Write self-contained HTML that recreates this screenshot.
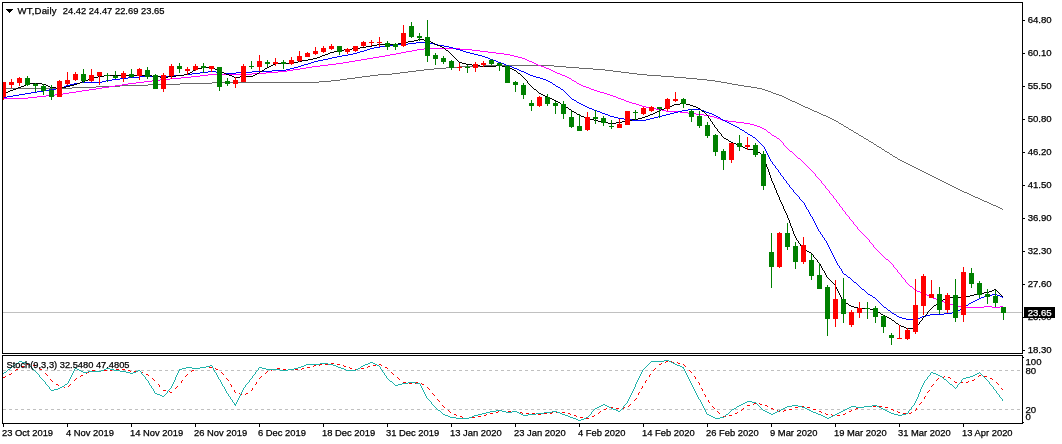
<!DOCTYPE html>
<html lang="en"><head><meta charset="utf-8"><title>WT Daily</title>
<style>
html,body{margin:0;padding:0;background:#fff}
body{width:1062px;height:444px;overflow:hidden;position:relative}
svg{position:absolute;left:0;top:0;display:block}
text{font-family:"Liberation Sans",sans-serif;font-size:9.6px;fill:#000;stroke:#000;stroke-width:.25px}
</style></head><body>
<svg width="1062" height="444" viewBox="0 0 1062 444">
<rect width="1062" height="444" fill="#fff"/>
<defs><clipPath id="cm"><rect x="3" y="3" width="1019" height="350"/></clipPath><clipPath id="cs"><rect x="3" y="356" width="1019" height="67"/></clipPath></defs>
<g class="ln" clip-path="url(#cm)" shape-rendering="crispEdges">
<path d="M3 312h1019v1h-1019z" fill="#c0c0c0"/>
<path fill="#696969" d="M3 88h69v1h-69zM72 87h24v1h-24zM96 86h24v1h-24zM120 85h28v1h-28zM148 84h32v1h-32zM180 83h32v1h-32zM212 82h107v1h-107zM319 81h12v1h-12zM331 80h9v1h-9zM340 79h7v1h-7zM347 78h8v1h-8zM355 77h7v1h-7zM362 76h8v1h-8zM370 75h8v1h-8zM378 74h14v1h-14zM392 73h8v1h-8zM400 72h8v1h-8zM408 71h8v1h-8zM416 70h8v1h-8zM424 69h10v1h-10zM434 68h12v1h-12zM446 67h14v1h-14zM460 66h24v1h-24zM484 65h70v1h-70zM554 66h12v1h-12zM566 67h13v1h-13zM579 68h14v1h-14zM593 69h12v1h-12zM605 70h8v1h-8zM613 71h8v1h-8zM621 72h8v1h-8zM629 73h8v1h-8zM637 74h10v1h-10zM647 75h14v1h-14zM661 76h13v1h-13zM674 77h12v1h-12zM686 78h11v1h-11zM697 79h10v1h-10zM707 80h8v1h-8zM715 81h6v1h-6zM721 82h6v1h-6zM727 83h5v1h-5zM732 84h6v1h-6zM738 85h6v1h-6zM744 86h7v1h-7zM751 87h6v1h-6zM757 88h5v1h-5zM762 89h3v1h-3zM765 90h3v1h-3zM768 91h3v1h-3zM771 92h2v1h-2zM773 93h3v1h-3zM776 94h3v1h-3zM779 95h3v1h-3zM782 96h2v1h-2zM784 97h2v1h-2zM786 98h2v1h-2zM788 99h2v1h-2zM790 100h2v1h-2zM792 101h3v1h-3zM795 102h2v1h-2zM797 103h2v1h-2zM799 104h2v1h-2zM801 105h2v1h-2zM803 106h2v1h-2zM805 107h3v1h-3zM808 108h2v1h-2zM810 109h2v1h-2zM812 110h2v1h-2zM814 111h3v1h-3zM817 112h2v1h-2zM819 113h2v1h-2zM821 114h2v1h-2zM823 115h3v1h-3zM826 116h2v1h-2zM828 117h2v1h-2zM830 118h2v1h-2zM832 119h2v1h-2zM834 120h2v1h-2zM836 121h2v1h-2zM838 122h1v1h-1zM839 123h2v1h-2zM841 124h2v1h-2zM843 125h1v1h-1zM844 126h2v1h-2zM846 127h2v1h-2zM848 128h1v1h-1zM849 129h2v1h-2zM851 130h2v1h-2zM853 131h1v1h-1zM854 132h2v1h-2zM856 133h2v1h-2zM858 134h1v1h-1zM859 135h2v1h-2zM861 136h2v1h-2zM863 137h1v1h-1zM864 138h2v1h-2zM866 139h2v1h-2zM868 140h1v1h-1zM869 141h2v1h-2zM871 142h2v1h-2zM873 143h1v1h-1zM874 144h2v1h-2zM876 145h1v1h-1zM877 146h2v1h-2zM879 147h2v1h-2zM881 148h1v1h-1zM882 149h2v1h-2zM884 150h1v1h-1zM885 151h2v1h-2zM887 152h2v1h-2zM889 153h1v1h-1zM890 154h2v1h-2zM892 155h1v1h-1zM893 156h2v1h-2zM895 157h2v1h-2zM897 158h1v1h-1zM898 159h2v1h-2zM900 160h2v1h-2zM902 161h2v1h-2zM904 162h2v1h-2zM906 163h2v1h-2zM908 164h2v1h-2zM910 165h2v1h-2zM912 166h2v1h-2zM914 167h2v1h-2zM916 168h2v1h-2zM918 169h2v1h-2zM920 170h2v1h-2zM922 171h2v1h-2zM924 172h2v1h-2zM926 173h2v1h-2zM928 174h2v1h-2zM930 175h2v1h-2zM932 176h2v1h-2zM934 177h2v1h-2zM936 178h2v1h-2zM938 179h2v1h-2zM940 180h2v1h-2zM942 181h2v1h-2zM944 182h2v1h-2zM946 183h2v1h-2zM948 184h2v1h-2zM950 185h2v1h-2zM952 186h2v1h-2zM954 187h2v1h-2zM956 188h2v1h-2zM958 189h2v1h-2zM960 190h2v1h-2zM962 191h2v1h-2zM964 192h3v1h-3zM967 193h2v1h-2zM969 194h2v1h-2zM971 195h2v1h-2zM973 196h2v1h-2zM975 197h3v1h-3zM978 198h2v1h-2zM980 199h2v1h-2zM982 200h2v1h-2zM984 201h3v1h-3zM987 202h2v1h-2zM989 203h2v1h-2zM991 204h2v1h-2zM993 205h3v1h-3zM996 206h2v1h-2zM998 207h2v1h-2zM1000 208h2v1h-2zM1002 209h1v1h-1z"/>
<path fill="#f0f" d="M3 98h25v1h-25zM28 97h9v1h-9zM37 96h9v1h-9zM46 95h9v1h-9zM55 94h8v1h-8zM63 93h6v1h-6zM69 92h7v1h-7zM76 91h6v1h-6zM82 90h7v1h-7zM89 89h7v1h-7zM96 88h6v1h-6zM102 87h7v1h-7zM109 86h6v1h-6zM115 85h7v1h-7zM122 84h6v1h-6zM128 83h8v1h-8zM136 82h8v1h-8zM144 81h8v1h-8zM152 80h8v1h-8zM160 79h10v1h-10zM170 78h11v1h-11zM181 77h10v1h-10zM191 76h9v1h-9zM200 75h8v1h-8zM208 74h44v1h-44zM252 73h14v1h-14zM266 72h12v1h-12zM278 71h9v1h-9zM287 70h6v1h-6zM293 69h7v1h-7zM300 68h6v1h-6zM306 67h6v1h-6zM312 66h8v1h-8zM320 65h8v1h-8zM328 64h8v1h-8zM336 63h7v1h-7zM343 62h6v1h-6zM349 61h6v1h-6zM355 60h6v1h-6zM361 59h6v1h-6zM367 58h6v1h-6zM373 57h6v1h-6zM379 56h6v1h-6zM385 55h5v1h-5zM390 54h6v1h-6zM396 53h5v1h-5zM401 52h5v1h-5zM406 51h6v1h-6zM412 50h5v1h-5zM417 49h7v1h-7zM424 48h36v1h-36zM460 49h12v1h-12zM472 50h8v1h-8zM480 51h8v1h-8zM488 52h8v1h-8zM496 53h8v1h-8zM504 54h6v1h-6zM510 55h4v1h-4zM514 56h4v1h-4zM518 57h4v1h-4zM522 58h3v1h-3zM525 59h2v1h-2zM527 60h2v1h-2zM529 61h3v1h-3zM532 62h2v1h-2zM534 63h2v1h-2zM536 64h2v1h-2zM538 65h3v1h-3zM541 66h3v1h-3zM544 67h2v1h-2zM546 68h3v1h-3zM549 69h2v1h-2zM551 70h2v1h-2zM553 71h2v1h-2zM555 72h2v1h-2zM557 73h3v1h-3zM560 74h2v1h-2zM562 75h3v1h-3zM565 76h2v1h-2zM567 77h2v1h-2zM569 78h2v1h-2zM571 79h1v1h-1zM572 80h2v1h-2zM574 81h2v1h-2zM576 82h1v1h-1zM577 83h2v1h-2zM579 84h2v1h-2zM581 85h2v1h-2zM583 86h3v1h-3zM586 87h3v1h-3zM589 88h2v1h-2zM591 89h3v1h-3zM594 90h3v1h-3zM597 91h3v1h-3zM600 92h4v1h-4zM604 93h3v1h-3zM607 94h3v1h-3zM610 95h3v1h-3zM613 96h3v1h-3zM616 97h2v1h-2zM618 98h3v1h-3zM621 99h3v1h-3zM624 100h2v1h-2zM626 101h3v1h-3zM629 102h3v1h-3zM632 103h4v1h-4zM636 104h3v1h-3zM639 105h3v1h-3zM642 106h4v1h-4zM646 107h4v1h-4zM650 108h6v1h-6zM656 109h6v1h-6zM662 110h4v1h-4zM666 111h14v1h-14zM680 112h8v1h-8zM688 113h8v1h-8zM696 114h8v1h-8zM704 115h6v1h-6zM710 116h4v1h-4zM714 117h3v1h-3zM717 118h3v1h-3zM720 119h2v1h-2zM722 120h6v1h-6zM728 121h8v1h-8zM736 122h8v1h-8zM744 123h6v1h-6zM750 124h4v1h-4zM754 125h3v1h-3zM757 126h3v1h-3zM760 127h2v1h-2zM762 128h2v1h-2zM764 129h2v1h-2zM766 130h1v1h-1zM767 131h1v1h-1zM768 132h2v1h-2zM770 133h1v1h-1zM771 134h1v1h-1zM772 135h2v1h-2zM774 136h2v1h-2zM776 137h1v1h-1zM777 138h2v1h-2zM779 139h1v1h-1zM780 140h1v1h-1zM781 141h1v1h-1zM782 142h1v1h-1zM783 143h1v2h-1zM784 145h1v1h-1zM785 146h1v1h-1zM786 147h1v1h-1zM787 148h1v1h-1zM788 149h1v1h-1zM789 150h1v1h-1zM790 151h2v1h-2zM792 152h1v1h-1zM793 153h1v1h-1zM794 154h1v1h-1zM795 155h1v1h-1zM796 156h1v1h-1zM797 157h1v1h-1zM798 158h2v1h-2zM800 159h1v1h-1zM801 160h1v1h-1zM802 161h1v1h-1zM803 162h1v1h-1zM804 163h1v1h-1zM805 164h1v1h-1zM806 165h1v1h-1zM807 166h1v1h-1zM808 167h1v1h-1zM809 168h1v1h-1zM810 169h1v1h-1zM811 170h1v1h-1zM812 171h1v1h-1zM813 172h1v1h-1zM814 173h1v1h-1zM815 174h1v2h-1zM816 176h1v1h-1zM817 177h1v1h-1zM818 178h1v1h-1zM819 179h1v1h-1zM820 180h1v1h-1zM821 181h1v2h-1zM822 183h1v1h-1zM823 184h1v1h-1zM824 185h1v1h-1zM825 186h1v2h-1zM826 188h1v1h-1zM827 189h1v1h-1zM828 190h1v1h-1zM829 191h1v2h-1zM830 193h1v1h-1zM831 194h1v1h-1zM832 195h1v1h-1zM833 196h1v2h-1zM834 198h1v1h-1zM835 199h1v1h-1zM836 200h1v2h-1zM837 202h1v1h-1zM838 203h1v1h-1zM839 204h1v2h-1zM840 206h1v1h-1zM841 207h1v1h-1zM842 208h1v2h-1zM843 210h1v1h-1zM844 211h1v1h-1zM845 212h1v2h-1zM846 214h1v1h-1zM847 215h1v1h-1zM848 216h1v1h-1zM849 217h1v2h-1zM850 219h1v1h-1zM851 220h1v1h-1zM852 221h1v1h-1zM853 222h1v2h-1zM854 224h1v1h-1zM855 225h1v1h-1zM856 226h1v1h-1zM857 227h1v2h-1zM858 229h1v1h-1zM859 230h1v1h-1zM860 231h1v1h-1zM861 232h1v1h-1zM862 233h1v1h-1zM863 234h1v1h-1zM864 235h1v1h-1zM865 236h1v1h-1zM866 237h1v1h-1zM867 238h1v1h-1zM868 239h1v1h-1zM869 240h1v2h-1zM870 242h1v1h-1zM871 243h1v1h-1zM872 244h1v1h-1zM873 245h1v2h-1zM874 247h1v1h-1zM875 248h1v1h-1zM876 249h1v1h-1zM877 250h1v1h-1zM878 251h1v1h-1zM879 252h1v1h-1zM880 253h1v1h-1zM881 254h1v1h-1zM882 255h1v1h-1zM883 256h1v1h-1zM884 257h1v1h-1zM885 258h1v1h-1zM886 259h2v1h-2zM888 260h1v1h-1zM889 261h1v1h-1zM890 262h1v1h-1zM891 263h1v1h-1zM892 264h1v1h-1zM893 265h1v2h-1zM894 267h1v1h-1zM895 268h1v1h-1zM896 269h1v1h-1zM897 270h1v2h-1zM898 272h1v1h-1zM899 273h1v1h-1zM900 274h1v1h-1zM901 275h1v2h-1zM902 277h1v1h-1zM903 278h1v1h-1zM904 279h1v1h-1zM905 280h1v2h-1zM906 282h1v1h-1zM907 283h1v1h-1zM908 284h1v1h-1zM909 285h1v1h-1zM910 286h2v1h-2zM912 287h1v1h-1zM913 288h1v1h-1zM914 289h1v1h-1zM915 290h2v1h-2zM917 291h3v1h-3zM920 292h2v1h-2zM922 293h3v1h-3zM925 294h2v1h-2zM927 295h2v1h-2zM929 296h2v1h-2zM931 297h2v1h-2zM933 298h3v1h-3zM936 299h2v1h-2zM938 300h3v1h-3zM941 301h3v1h-3zM944 302h2v1h-2zM946 303h4v1h-4zM950 304h4v1h-4zM954 305h4v1h-4zM958 306h4v1h-4zM962 307h22v1h-22zM984 306h8v1h-8zM992 307h8v1h-8zM1000 306h3v1h-3z"/>
<path fill="#00f" d="M3 97h4v1h-4zM7 96h6v1h-6zM13 95h6v1h-6zM19 94h6v1h-6zM25 93h6v1h-6zM31 92h6v1h-6zM37 91h6v1h-6zM43 90h6v1h-6zM49 89h7v1h-7zM56 88h5v1h-5zM61 87h3v1h-3zM64 86h2v1h-2zM66 85h4v1h-4zM70 84h4v1h-4zM74 83h6v1h-6zM80 82h22v1h-22zM102 81h4v1h-4zM106 80h6v1h-6zM112 79h8v1h-8zM120 78h8v1h-8zM128 77h12v1h-12zM140 76h32v1h-32zM172 75h12v1h-12zM184 74h8v1h-8zM192 73h8v1h-8zM200 72h8v1h-8zM208 71h8v1h-8zM216 72h8v1h-8zM224 73h12v1h-12zM236 72h16v1h-16zM252 71h20v1h-20zM272 70h14v1h-14zM286 69h4v1h-4zM290 68h4v1h-4zM294 67h4v1h-4zM298 66h3v1h-3zM301 65h3v1h-3zM304 64h4v1h-4zM308 63h3v1h-3zM311 62h3v1h-3zM314 61h4v1h-4zM318 60h5v1h-5zM323 59h5v1h-5zM328 58h4v1h-4zM332 57h5v1h-5zM337 56h5v1h-5zM342 55h6v1h-6zM348 54h5v1h-5zM353 53h4v1h-4zM357 52h3v1h-3zM360 51h4v1h-4zM364 50h3v1h-3zM367 49h3v1h-3zM370 48h4v1h-4zM374 47h6v1h-6zM380 46h5v1h-5zM385 45h11v1h-11zM396 44h12v1h-12zM408 43h8v1h-8zM416 42h14v1h-14zM430 43h4v1h-4zM434 44h4v1h-4zM438 45h6v1h-6zM444 46h5v1h-5zM449 47h4v1h-4zM453 48h3v1h-3zM456 49h4v1h-4zM460 50h3v1h-3zM463 51h3v1h-3zM466 52h4v1h-4zM470 53h4v1h-4zM474 54h4v1h-4zM478 55h4v1h-4zM482 56h3v1h-3zM485 57h3v1h-3zM488 58h2v1h-2zM490 59h3v1h-3zM493 60h3v1h-3zM496 61h2v1h-2zM498 62h3v1h-3zM501 63h3v1h-3zM504 64h2v1h-2zM506 65h3v1h-3zM509 66h3v1h-3zM512 67h2v1h-2zM514 68h3v1h-3zM517 69h2v1h-2zM519 70h2v1h-2zM521 71h3v1h-3zM524 72h2v1h-2zM526 73h2v1h-2zM528 74h2v1h-2zM530 75h3v1h-3zM533 76h3v1h-3zM536 77h4v1h-4zM540 78h3v1h-3zM543 79h3v1h-3zM546 80h2v1h-2zM548 81h2v1h-2zM550 82h2v1h-2zM552 83h1v1h-1zM553 84h2v1h-2zM555 85h1v1h-1zM556 86h2v1h-2zM558 87h2v1h-2zM560 88h1v1h-1zM561 89h2v1h-2zM563 90h1v1h-1zM564 91h1v1h-1zM565 92h1v1h-1zM566 93h1v1h-1zM567 94h1v1h-1zM568 95h1v1h-1zM569 96h1v1h-1zM570 97h1v1h-1zM571 98h1v1h-1zM572 99h2v1h-2zM574 100h2v1h-2zM576 101h1v1h-1zM577 102h2v1h-2zM579 103h2v1h-2zM581 104h2v1h-2zM583 105h2v1h-2zM585 106h2v1h-2zM587 107h2v1h-2zM589 108h3v1h-3zM592 109h2v1h-2zM594 110h3v1h-3zM597 111h3v1h-3zM600 112h2v1h-2zM602 113h3v1h-3zM605 114h3v1h-3zM608 115h2v1h-2zM610 116h4v1h-4zM614 117h4v1h-4zM618 118h6v1h-6zM624 119h8v1h-8zM632 120h14v1h-14zM646 119h4v1h-4zM650 118h4v1h-4zM654 117h4v1h-4zM658 116h4v1h-4zM662 115h4v1h-4zM666 114h4v1h-4zM670 113h4v1h-4zM674 112h4v1h-4zM678 111h4v1h-4zM682 110h6v1h-6zM688 109h13v1h-13zM701 110h3v1h-3zM704 111h2v1h-2zM706 112h3v1h-3zM709 113h3v1h-3zM712 114h2v1h-2zM714 115h2v1h-2zM716 116h2v1h-2zM718 117h2v1h-2zM720 118h1v1h-1zM721 119h2v1h-2zM723 120h2v1h-2zM725 121h2v1h-2zM727 122h2v1h-2zM729 123h2v1h-2zM731 124h2v1h-2zM733 125h2v1h-2zM735 126h2v1h-2zM737 127h2v1h-2zM739 128h1v1h-1zM740 129h2v1h-2zM742 130h2v1h-2zM744 131h1v1h-1zM745 132h2v1h-2zM747 133h1v1h-1zM748 134h2v1h-2zM750 135h2v1h-2zM752 136h1v1h-1zM753 137h2v1h-2zM755 138h1v1h-1zM756 139h1v1h-1zM757 140h1v1h-1zM758 141h1v1h-1zM759 142h1v1h-1zM760 143h1v1h-1zM761 144h1v1h-1zM762 145h1v1h-1zM763 146h1v1h-1zM764 147h1v2h-1zM765 149h1v2h-1zM766 151h1v2h-1zM767 153h1v2h-1zM768 155h1v2h-1zM769 157h1v2h-1zM770 159h1v2h-1zM771 161h1v1h-1zM772 162h1v2h-1zM773 164h1v1h-1zM774 165h1v1h-1zM775 166h1v2h-1zM776 168h1v1h-1zM777 169h1v1h-1zM778 170h1v2h-1zM779 172h1v1h-1zM780 173h1v2h-1zM781 175h1v1h-1zM782 176h1v1h-1zM783 177h1v2h-1zM784 179h1v1h-1zM785 180h1v1h-1zM786 181h1v2h-1zM787 183h1v1h-1zM788 184h1v1h-1zM789 185h1v2h-1zM790 187h1v1h-1zM791 188h1v1h-1zM792 189h1v1h-1zM793 190h1v2h-1zM794 192h1v1h-1zM795 193h1v1h-1zM796 194h1v1h-1zM797 195h1v1h-1zM798 196h1v1h-1zM799 197h1v2h-1zM800 199h1v1h-1zM801 200h1v1h-1zM802 201h1v1h-1zM803 202h1v1h-1zM804 203h1v2h-1zM805 205h1v2h-1zM806 207h1v2h-1zM807 209h1v1h-1zM808 210h1v2h-1zM809 212h1v2h-1zM810 214h1v2h-1zM811 216h1v1h-1zM812 217h1v2h-1zM813 219h1v2h-1zM814 221h1v2h-1zM815 223h1v2h-1zM816 225h1v2h-1zM817 227h1v2h-1zM818 229h1v2h-1zM819 231h1v1h-1zM820 232h1v2h-1zM821 234h1v1h-1zM822 235h1v2h-1zM823 237h1v1h-1zM824 238h1v2h-1zM825 240h1v1h-1zM826 241h1v2h-1zM827 243h1v2h-1zM828 245h1v2h-1zM829 247h1v2h-1zM830 249h1v2h-1zM831 251h1v2h-1zM832 253h1v2h-1zM833 255h1v2h-1zM834 257h1v2h-1zM835 259h1v2h-1zM836 261h1v2h-1zM837 263h1v2h-1zM838 265h1v1h-1zM839 266h1v2h-1zM840 268h1v1h-1zM841 269h1v2h-1zM842 271h1v2h-1zM843 273h1v1h-1zM844 274h2v1h-2zM846 275h1v1h-1zM847 276h1v1h-1zM848 277h2v1h-2zM850 278h1v1h-1zM851 279h1v1h-1zM852 280h1v1h-1zM853 281h1v1h-1zM854 282h2v1h-2zM856 283h1v1h-1zM857 284h1v1h-1zM858 285h1v1h-1zM859 286h1v1h-1zM860 287h1v1h-1zM861 288h1v1h-1zM862 289h2v1h-2zM864 290h1v1h-1zM865 291h1v1h-1zM866 292h1v1h-1zM867 293h1v1h-1zM868 294h2v1h-2zM870 295h2v1h-2zM872 296h1v1h-1zM873 297h2v1h-2zM875 298h1v1h-1zM876 299h1v1h-1zM877 300h1v1h-1zM878 301h1v1h-1zM879 302h1v1h-1zM880 303h1v1h-1zM881 304h1v1h-1zM882 305h1v1h-1zM883 306h1v1h-1zM884 307h2v1h-2zM886 308h1v1h-1zM887 309h1v1h-1zM888 310h2v1h-2zM890 311h1v1h-1zM891 312h1v1h-1zM892 313h2v1h-2zM894 314h2v1h-2zM896 315h1v1h-1zM897 316h2v1h-2zM899 317h3v1h-3zM902 318h4v1h-4zM906 319h11v1h-11zM917 318h3v1h-3zM920 317h2v1h-2zM922 316h4v1h-4zM926 315h4v1h-4zM930 314h14v1h-14zM944 313h8v1h-8zM952 312h4v1h-4zM956 311h2v1h-2zM958 310h2v1h-2zM960 309h1v1h-1zM961 308h2v1h-2zM963 307h1v1h-1zM964 306h2v1h-2zM966 305h2v1h-2zM968 304h1v1h-1zM969 303h2v1h-2zM971 302h2v1h-2zM973 301h2v1h-2zM975 300h2v1h-2zM977 299h2v1h-2zM979 298h2v1h-2zM981 297h3v1h-3zM984 296h2v1h-2zM986 295h6v1h-6zM992 294h5v1h-5zM997 295h3v1h-3zM1000 296h2v1h-2zM1002 297h1v1h-1z"/>
<path fill="#000" d="M3 93h2v1h-2zM5 92h3v1h-3zM8 91h2v1h-2zM10 90h3v1h-3zM13 89h3v1h-3zM16 88h2v1h-2zM18 87h3v1h-3zM21 86h3v1h-3zM24 85h2v1h-2zM26 84h4v1h-4zM30 83h12v1h-12zM42 84h4v1h-4zM46 85h2v1h-2zM48 86h2v1h-2zM50 87h6v1h-6zM56 88h6v1h-6zM62 87h4v1h-4zM66 86h4v1h-4zM70 85h4v1h-4zM74 84h3v1h-3zM77 83h3v1h-3zM80 82h2v1h-2zM82 81h3v1h-3zM85 80h3v1h-3zM88 79h2v1h-2zM90 78h4v1h-4zM94 77h4v1h-4zM98 76h6v1h-6zM104 75h48v1h-48zM152 76h8v1h-8zM160 77h8v1h-8zM168 76h8v1h-8zM176 75h8v1h-8zM184 74h4v1h-4zM188 73h2v1h-2zM190 72h2v1h-2zM192 71h1v1h-1zM193 70h2v1h-2zM195 69h3v1h-3zM198 68h4v1h-4zM202 67h11v1h-11zM213 68h2v1h-2zM215 69h2v1h-2zM217 70h2v1h-2zM219 71h2v1h-2zM221 72h3v1h-3zM224 73h2v1h-2zM226 74h3v1h-3zM229 75h3v1h-3zM232 76h2v1h-2zM234 77h6v1h-6zM240 76h13v1h-13zM253 75h2v1h-2zM255 74h2v1h-2zM257 73h2v1h-2zM259 72h1v1h-1zM260 71h2v1h-2zM262 70h2v1h-2zM264 69h1v1h-1zM265 68h2v1h-2zM267 67h2v1h-2zM269 66h2v1h-2zM271 65h2v1h-2zM273 64h2v1h-2zM275 63h19v1h-19zM294 62h4v1h-4zM298 61h4v1h-4zM302 60h6v1h-6zM308 59h5v1h-5zM313 58h4v1h-4zM317 57h3v1h-3zM320 56h2v1h-2zM322 55h3v1h-3zM325 54h3v1h-3zM328 53h2v1h-2zM330 52h4v1h-4zM334 51h4v1h-4zM338 50h6v1h-6zM344 49h8v1h-8zM352 48h8v1h-8zM360 47h6v1h-6zM366 46h6v1h-6zM372 45h5v1h-5zM377 44h21v1h-21zM398 43h4v1h-4zM402 42h6v1h-6zM408 41h6v1h-6zM414 40h4v1h-4zM418 39h6v1h-6zM424 40h5v1h-5zM429 41h2v1h-2zM431 42h2v1h-2zM433 43h2v1h-2zM435 44h2v1h-2zM437 45h3v1h-3zM440 46h2v1h-2zM442 47h2v1h-2zM444 48h1v1h-1zM445 49h1v1h-1zM446 50h2v1h-2zM448 51h1v1h-1zM449 52h1v1h-1zM450 53h1v1h-1zM451 54h1v1h-1zM452 55h1v1h-1zM453 56h1v1h-1zM454 57h1v1h-1zM455 58h1v1h-1zM456 59h1v1h-1zM457 60h1v1h-1zM458 61h1v1h-1zM459 62h3v1h-3zM462 63h4v1h-4zM466 64h6v1h-6zM472 65h8v1h-8zM480 66h16v1h-16zM496 65h6v1h-6zM502 66h4v1h-4zM506 67h3v1h-3zM509 68h3v1h-3zM512 69h2v1h-2zM514 70h2v1h-2zM516 71h1v1h-1zM517 72h1v1h-1zM518 73h2v1h-2zM520 74h1v1h-1zM521 75h1v1h-1zM522 76h1v1h-1zM523 77h1v1h-1zM524 78h1v1h-1zM525 79h1v1h-1zM526 80h1v1h-1zM527 81h1v2h-1zM528 83h1v1h-1zM529 84h1v1h-1zM530 85h1v1h-1zM531 86h1v1h-1zM532 87h1v1h-1zM533 88h1v1h-1zM534 89h2v1h-2zM536 90h1v1h-1zM537 91h1v1h-1zM538 92h1v1h-1zM539 93h2v1h-2zM541 94h2v1h-2zM543 95h2v1h-2zM545 96h2v1h-2zM547 97h2v1h-2zM549 98h3v1h-3zM552 99h2v1h-2zM554 100h2v1h-2zM556 101h2v1h-2zM558 102h2v1h-2zM560 103h1v1h-1zM561 104h2v1h-2zM563 105h1v1h-1zM564 106h2v1h-2zM566 107h2v1h-2zM568 108h1v1h-1zM569 109h2v1h-2zM571 110h1v1h-1zM572 111h2v1h-2zM574 112h2v1h-2zM576 113h1v1h-1zM577 114h2v1h-2zM579 115h2v1h-2zM581 116h3v1h-3zM584 117h2v1h-2zM586 118h4v1h-4zM590 119h4v1h-4zM594 120h4v1h-4zM598 121h4v1h-4zM602 122h6v1h-6zM608 123h8v1h-8zM616 122h6v1h-6zM622 121h4v1h-4zM626 120h6v1h-6zM632 119h6v1h-6zM638 118h4v1h-4zM642 117h3v1h-3zM645 116h3v1h-3zM648 115h2v1h-2zM650 114h3v1h-3zM653 113h2v1h-2zM655 112h2v1h-2zM657 111h2v1h-2zM659 110h2v1h-2zM661 109h3v1h-3zM664 108h2v1h-2zM666 107h3v1h-3zM669 106h3v1h-3zM672 105h2v1h-2zM674 104h6v1h-6zM680 103h6v1h-6zM686 104h4v1h-4zM690 105h3v1h-3zM693 106h3v1h-3zM696 107h2v1h-2zM698 108h2v1h-2zM700 109h1v1h-1zM701 110h1v1h-1zM702 111h2v1h-2zM704 112h1v1h-1zM705 113h1v1h-1zM706 114h1v1h-1zM707 115h1v1h-1zM708 116h1v2h-1zM709 118h1v1h-1zM710 119h1v2h-1zM711 121h1v1h-1zM712 122h1v2h-1zM713 124h1v1h-1zM714 125h1v2h-1zM715 127h1v1h-1zM716 128h1v1h-1zM717 129h1v2h-1zM718 131h1v1h-1zM719 132h1v1h-1zM720 133h1v1h-1zM721 134h1v2h-1zM722 136h1v1h-1zM723 137h1v1h-1zM724 138h2v1h-2zM726 139h2v1h-2zM728 140h1v1h-1zM729 141h2v1h-2zM731 142h2v1h-2zM733 143h3v1h-3zM736 144h2v1h-2zM738 145h3v1h-3zM741 146h2v1h-2zM743 147h2v1h-2zM745 148h2v1h-2zM747 149h9v1h-9zM756 150h1v1h-1zM757 151h1v1h-1zM758 152h2v1h-2zM760 153h1v1h-1zM761 154h1v1h-1zM762 155h1v1h-1zM763 156h1v2h-1zM764 158h1v3h-1zM765 161h1v3h-1zM766 164h1v3h-1zM767 167h1v2h-1zM768 169h1v3h-1zM769 172h1v3h-1zM770 175h1v3h-1zM771 178h1v3h-1zM772 181h1v2h-1zM773 183h1v2h-1zM774 185h1v3h-1zM775 188h1v2h-1zM776 190h1v3h-1zM777 193h1v2h-1zM778 195h1v2h-1zM779 197h1v3h-1zM780 200h1v2h-1zM781 202h1v2h-1zM782 204h1v2h-1zM783 206h1v3h-1zM784 209h1v2h-1zM785 211h1v2h-1zM786 213h1v2h-1zM787 215h1v3h-1zM788 218h1v2h-1zM789 220h1v3h-1zM790 223h1v3h-1zM791 226h1v2h-1zM792 228h1v3h-1zM793 231h1v3h-1zM794 234h1v2h-1zM795 236h1v2h-1zM796 238h1v2h-1zM797 240h1v1h-1zM798 241h1v2h-1zM799 243h1v1h-1zM800 244h1v2h-1zM801 246h1v1h-1zM802 247h1v2h-1zM803 249h2v1h-2zM805 250h2v1h-2zM807 251h2v1h-2zM809 252h2v1h-2zM811 253h1v1h-1zM812 254h1v1h-1zM813 255h1v2h-1zM814 257h1v1h-1zM815 258h1v1h-1zM816 259h1v1h-1zM817 260h1v2h-1zM818 262h1v1h-1zM819 263h1v1h-1zM820 264h1v2h-1zM821 266h1v2h-1zM822 268h1v2h-1zM823 270h1v1h-1zM824 271h1v2h-1zM825 273h1v2h-1zM826 275h1v2h-1zM827 277h1v1h-1zM828 278h1v1h-1zM829 279h1v1h-1zM830 280h1v1h-1zM831 281h1v1h-1zM832 282h1v1h-1zM833 283h1v1h-1zM834 284h1v1h-1zM835 285h1v2h-1zM836 287h1v2h-1zM837 289h1v2h-1zM838 291h1v2h-1zM839 293h1v2h-1zM840 295h1v2h-1zM841 297h1v2h-1zM842 299h1v2h-1zM843 301h1v1h-1zM844 302h2v1h-2zM846 303h2v1h-2zM848 304h1v1h-1zM849 305h2v1h-2zM851 306h3v1h-3zM854 307h4v1h-4zM858 308h12v1h-12zM870 309h4v1h-4zM874 310h2v1h-2zM876 311h2v1h-2zM878 312h2v1h-2zM880 313h1v1h-1zM881 314h2v1h-2zM883 315h2v1h-2zM885 316h2v1h-2zM887 317h2v1h-2zM889 318h2v1h-2zM891 319h1v1h-1zM892 320h2v1h-2zM894 321h1v1h-1zM895 322h1v1h-1zM896 323h2v1h-2zM898 324h1v1h-1zM899 325h2v1h-2zM901 326h3v1h-3zM904 327h2v1h-2zM906 328h10v1h-10zM916 326h1v2h-1zM917 325h1v1h-1zM918 324h1v1h-1zM919 322h1v2h-1zM920 321h1v1h-1zM921 320h1v1h-1zM922 318h1v2h-1zM923 317h1v1h-1zM924 316h1v1h-1zM925 315h1v1h-1zM926 314h1v1h-1zM927 312h1v2h-1zM928 311h1v1h-1zM929 310h1v1h-1zM930 309h1v1h-1zM931 308h1v1h-1zM932 307h1v1h-1zM933 306h1v1h-1zM934 305h2v1h-2zM936 304h1v1h-1zM937 303h1v1h-1zM938 302h1v1h-1zM939 301h2v1h-2zM941 300h2v1h-2zM943 299h2v1h-2zM945 298h2v1h-2zM947 297h19v1h-19zM966 296h4v1h-4zM970 295h4v1h-4zM974 294h4v1h-4zM978 293h6v1h-6zM984 292h5v1h-5zM989 291h3v1h-3zM992 290h2v1h-2zM994 289h2v1h-2zM996 290h1v1h-1zM997 291h1v1h-1zM998 292h1v1h-1zM999 293h1v1h-1zM1000 294h1v1h-1zM1001 295h1v1h-1zM1002 296h1v1h-1z"/>
</g>
<g clip-path="url(#cm)" shape-rendering="crispEdges">
<path fill="#f00" d="M3 82h1v18h-1zM1 82h5v15h-5zM11 79h1v9h-1zM9 82h5v3h-5zM19 77h1v9h-1zM17 78h5v5h-5zM59 80h1v17h-1zM57 81h5v16h-5zM67 72h1v13h-1zM65 80h5v4h-5zM75 72h1v9h-1zM73 74h5v6h-5zM91 69h1v13h-1zM89 75h5v6h-5zM99 72h1v13h-1zM97 72h5v4h-5zM123 71h1v11h-1zM121 73h5v5h-5zM139 68h1v12h-1zM137 69h5v7h-5zM163 73h1v19h-1zM161 75h5v14h-5zM171 64h1v15h-1zM169 66h5v10h-5zM187 67h1v8h-1zM185 69h5v2h-5zM195 64h1v7h-1zM193 66h5v4h-5zM211 66h1v6h-1zM209 66h5v3h-5zM235 77h1v11h-1zM233 80h5v4h-5zM243 64h1v18h-1zM241 66h5v16h-5zM259 55h1v16h-1zM257 61h5v6h-5zM275 58h1v8h-1zM273 62h5v2h-5zM291 57h1v8h-1zM289 60h5v4h-5zM299 51h1v11h-1zM297 56h5v5h-5zM307 52h1v5h-1zM305 53h5v4h-5zM315 47h1v8h-1zM313 51h5v3h-5zM323 46h1v7h-1zM321 48h5v4h-5zM331 44h1v6h-1zM329 46h5v3h-5zM347 48h1v6h-1zM345 49h5v3h-5zM355 46h1v6h-1zM353 46h5v5h-5zM363 41h1v6h-1zM361 42h5v4h-5zM371 40h1v6h-1zM369 42h5v1h-5zM379 37h1v10h-1zM377 42h5v1h-5zM403 25h1v22h-1zM401 33h5v13h-5zM459 63h1v8h-1zM457 67h5v1h-5zM475 62h1v10h-1zM473 64h5v4h-5zM483 61h1v6h-1zM481 63h5v2h-5zM539 96h1v11h-1zM537 97h5v9h-5zM587 112h1v19h-1zM585 117h5v13h-5zM619 119h1v9h-1zM617 124h5v4h-5zM627 111h1v14h-1zM625 111h5v14h-5zM643 107h1v8h-1zM641 108h5v6h-5zM651 106h1v6h-1zM649 107h5v4h-5zM667 98h1v13h-1zM665 99h5v10h-5zM675 92h1v10h-1zM673 99h5v2h-5zM731 143h1v20h-1zM729 143h5v17h-5zM747 137h1v13h-1zM745 145h5v2h-5zM779 232h1v36h-1zM777 233h5v34h-5zM803 237h1v27h-1zM801 245h5v17h-5zM835 280h1v47h-1zM833 299h5v20h-5zM851 310h1v17h-1zM849 312h5v13h-5zM859 302h1v16h-1zM857 308h5v5h-5zM899 325h1v14h-1zM897 338h5v1h-5zM907 328h1v12h-1zM905 330h5v9h-5zM915 279h1v55h-1zM913 305h5v27h-5zM923 274h1v41h-1zM921 276h5v30h-5zM931 280h1v18h-1zM929 294h5v4h-5zM947 293h1v20h-1zM945 295h5v15h-5zM963 267h1v55h-1zM961 272h5v43h-5z"/>
<path fill="#008000" d="M27 76h1v10h-1zM25 78h5v7h-5zM35 83h1v9h-1zM33 84h5v2h-5zM43 84h1v11h-1zM41 86h5v5h-5zM51 85h1v15h-1zM49 90h5v7h-5zM83 69h1v14h-1zM81 74h5v7h-5zM107 73h1v9h-1zM105 75h5v1h-5zM115 71h1v8h-1zM113 76h5v2h-5zM131 69h1v9h-1zM129 74h5v3h-5zM147 67h1v12h-1zM145 70h5v7h-5zM155 74h1v15h-1zM153 75h5v14h-5zM179 63h1v10h-1zM177 66h5v3h-5zM203 63h1v10h-1zM201 66h5v2h-5zM219 67h1v24h-1zM217 67h5v20h-5zM227 78h1v8h-1zM225 81h5v3h-5zM251 61h1v8h-1zM249 66h5v1h-5zM267 60h1v7h-1zM265 62h5v2h-5zM283 60h1v9h-1zM281 62h5v2h-5zM339 46h1v9h-1zM337 46h5v6h-5zM387 41h1v9h-1zM385 43h5v4h-5zM395 43h1v7h-1zM393 44h5v3h-5zM411 22h1v16h-1zM409 26h5v11h-5zM419 33h1v8h-1zM417 36h5v2h-5zM427 20h1v42h-1zM425 37h5v19h-5zM435 53h1v12h-1zM433 55h5v4h-5zM443 56h1v8h-1zM441 58h5v4h-5zM451 60h1v10h-1zM449 61h5v7h-5zM467 65h1v8h-1zM465 67h5v1h-5zM491 59h1v6h-1zM489 60h5v4h-5zM499 63h1v8h-1zM497 63h5v3h-5zM507 65h1v18h-1zM505 66h5v17h-5zM515 81h1v11h-1zM513 82h5v3h-5zM523 83h1v16h-1zM521 85h5v10h-5zM531 100h1v11h-1zM529 103h5v3h-5zM547 94h1v12h-1zM545 97h5v7h-5zM555 101h1v13h-1zM553 103h5v3h-5zM563 101h1v18h-1zM561 104h5v10h-5zM571 111h1v17h-1zM569 117h5v10h-5zM579 114h1v17h-1zM577 126h5v5h-5zM595 110h1v14h-1zM593 117h5v2h-5zM603 116h1v10h-1zM601 118h5v5h-5zM611 120h1v9h-1zM609 126h5v1h-5zM635 110h1v10h-1zM633 112h5v1h-5zM659 107h1v11h-1zM657 107h5v2h-5zM683 98h1v10h-1zM681 99h5v5h-5zM691 109h1v13h-1zM689 111h5v6h-5zM699 111h1v17h-1zM697 116h5v10h-5zM707 122h1v16h-1zM705 125h5v11h-5zM715 134h1v22h-1zM713 135h5v17h-5zM723 149h1v21h-1zM721 151h5v9h-5zM739 135h1v16h-1zM737 143h5v4h-5zM755 143h1v14h-1zM753 145h5v10h-5zM763 151h1v39h-1zM761 154h5v32h-5zM771 233h1v55h-1zM769 252h5v15h-5zM787 223h1v27h-1zM785 233h5v14h-5zM795 242h1v27h-1zM793 246h5v16h-5zM811 254h1v26h-1zM809 260h5v16h-5zM819 263h1v26h-1zM817 275h5v14h-5zM827 285h1v51h-1zM825 287h5v32h-5zM843 278h1v45h-1zM841 299h5v15h-5zM867 302h1v17h-1zM865 308h5v1h-5zM875 306h1v17h-1zM873 308h5v9h-5zM883 315h1v18h-1zM881 316h5v11h-5zM891 333h1v12h-1zM889 335h5v3h-5zM939 287h1v27h-1zM937 294h5v16h-5zM955 279h1v43h-1zM953 295h5v23h-5zM971 268h1v20h-1zM969 273h5v11h-5zM979 281h1v17h-1zM977 283h5v12h-5zM987 289h1v15h-1zM985 294h5v3h-5zM995 290h1v17h-1zM993 296h5v7h-5zM1003 307h1v13h-1zM1001 307h5v6h-5z"/>
</g>
<g class="ln" clip-path="url(#cs)" shape-rendering="crispEdges">
<path fill="#c0c0c0" d="M3 370h3v1h-3zM9 370h3v1h-3zM15 370h3v1h-3zM21 370h3v1h-3zM27 370h3v1h-3zM33 370h3v1h-3zM39 370h3v1h-3zM45 370h3v1h-3zM51 370h3v1h-3zM57 370h3v1h-3zM63 370h3v1h-3zM69 370h3v1h-3zM75 370h3v1h-3zM81 370h3v1h-3zM87 370h3v1h-3zM93 370h3v1h-3zM99 370h3v1h-3zM105 370h3v1h-3zM111 370h3v1h-3zM117 370h3v1h-3zM123 370h3v1h-3zM129 370h3v1h-3zM135 370h3v1h-3zM141 370h3v1h-3zM147 370h3v1h-3zM153 370h3v1h-3zM159 370h3v1h-3zM165 370h3v1h-3zM171 370h3v1h-3zM177 370h3v1h-3zM183 370h3v1h-3zM189 370h3v1h-3zM195 370h3v1h-3zM201 370h3v1h-3zM207 370h3v1h-3zM213 370h3v1h-3zM219 370h3v1h-3zM225 370h3v1h-3zM231 370h3v1h-3zM237 370h3v1h-3zM243 370h3v1h-3zM249 370h3v1h-3zM255 370h3v1h-3zM261 370h3v1h-3zM267 370h3v1h-3zM273 370h3v1h-3zM279 370h3v1h-3zM285 370h3v1h-3zM291 370h3v1h-3zM297 370h3v1h-3zM303 370h3v1h-3zM309 370h3v1h-3zM315 370h3v1h-3zM321 370h3v1h-3zM327 370h3v1h-3zM333 370h3v1h-3zM339 370h3v1h-3zM345 370h3v1h-3zM351 370h3v1h-3zM357 370h3v1h-3zM363 370h3v1h-3zM369 370h3v1h-3zM375 370h3v1h-3zM381 370h3v1h-3zM387 370h3v1h-3zM393 370h3v1h-3zM399 370h3v1h-3zM405 370h3v1h-3zM411 370h3v1h-3zM417 370h3v1h-3zM423 370h3v1h-3zM429 370h3v1h-3zM435 370h3v1h-3zM441 370h3v1h-3zM447 370h3v1h-3zM453 370h3v1h-3zM459 370h3v1h-3zM465 370h3v1h-3zM471 370h3v1h-3zM477 370h3v1h-3zM483 370h3v1h-3zM489 370h3v1h-3zM495 370h3v1h-3zM501 370h3v1h-3zM507 370h3v1h-3zM513 370h3v1h-3zM519 370h3v1h-3zM525 370h3v1h-3zM531 370h3v1h-3zM537 370h3v1h-3zM543 370h3v1h-3zM549 370h3v1h-3zM555 370h3v1h-3zM561 370h3v1h-3zM567 370h3v1h-3zM573 370h3v1h-3zM579 370h3v1h-3zM585 370h3v1h-3zM591 370h3v1h-3zM597 370h3v1h-3zM603 370h3v1h-3zM609 370h3v1h-3zM615 370h3v1h-3zM621 370h3v1h-3zM627 370h3v1h-3zM633 370h3v1h-3zM639 370h3v1h-3zM645 370h3v1h-3zM651 370h3v1h-3zM657 370h3v1h-3zM663 370h3v1h-3zM669 370h3v1h-3zM675 370h3v1h-3zM681 370h3v1h-3zM687 370h3v1h-3zM693 370h3v1h-3zM699 370h3v1h-3zM705 370h3v1h-3zM711 370h3v1h-3zM717 370h3v1h-3zM723 370h3v1h-3zM729 370h3v1h-3zM735 370h3v1h-3zM741 370h3v1h-3zM747 370h3v1h-3zM753 370h3v1h-3zM759 370h3v1h-3zM765 370h3v1h-3zM771 370h3v1h-3zM777 370h3v1h-3zM783 370h3v1h-3zM789 370h3v1h-3zM795 370h3v1h-3zM801 370h3v1h-3zM807 370h3v1h-3zM813 370h3v1h-3zM819 370h3v1h-3zM825 370h3v1h-3zM831 370h3v1h-3zM837 370h3v1h-3zM843 370h3v1h-3zM849 370h3v1h-3zM855 370h3v1h-3zM861 370h3v1h-3zM867 370h3v1h-3zM873 370h3v1h-3zM879 370h3v1h-3zM885 370h3v1h-3zM891 370h3v1h-3zM897 370h3v1h-3zM903 370h3v1h-3zM909 370h3v1h-3zM915 370h3v1h-3zM921 370h3v1h-3zM927 370h3v1h-3zM933 370h3v1h-3zM939 370h3v1h-3zM945 370h3v1h-3zM951 370h3v1h-3zM957 370h3v1h-3zM963 370h3v1h-3zM969 370h3v1h-3zM975 370h3v1h-3zM981 370h3v1h-3zM987 370h3v1h-3zM993 370h3v1h-3zM999 370h3v1h-3zM1005 370h3v1h-3zM1011 370h3v1h-3zM1017 370h3v1h-3z"/>
<path fill="#c0c0c0" d="M3 409h3v1h-3zM9 409h3v1h-3zM15 409h3v1h-3zM21 409h3v1h-3zM27 409h3v1h-3zM33 409h3v1h-3zM39 409h3v1h-3zM45 409h3v1h-3zM51 409h3v1h-3zM57 409h3v1h-3zM63 409h3v1h-3zM69 409h3v1h-3zM75 409h3v1h-3zM81 409h3v1h-3zM87 409h3v1h-3zM93 409h3v1h-3zM99 409h3v1h-3zM105 409h3v1h-3zM111 409h3v1h-3zM117 409h3v1h-3zM123 409h3v1h-3zM129 409h3v1h-3zM135 409h3v1h-3zM141 409h3v1h-3zM147 409h3v1h-3zM153 409h3v1h-3zM159 409h3v1h-3zM165 409h3v1h-3zM171 409h3v1h-3zM177 409h3v1h-3zM183 409h3v1h-3zM189 409h3v1h-3zM195 409h3v1h-3zM201 409h3v1h-3zM207 409h3v1h-3zM213 409h3v1h-3zM219 409h3v1h-3zM225 409h3v1h-3zM231 409h3v1h-3zM237 409h3v1h-3zM243 409h3v1h-3zM249 409h3v1h-3zM255 409h3v1h-3zM261 409h3v1h-3zM267 409h3v1h-3zM273 409h3v1h-3zM279 409h3v1h-3zM285 409h3v1h-3zM291 409h3v1h-3zM297 409h3v1h-3zM303 409h3v1h-3zM309 409h3v1h-3zM315 409h3v1h-3zM321 409h3v1h-3zM327 409h3v1h-3zM333 409h3v1h-3zM339 409h3v1h-3zM345 409h3v1h-3zM351 409h3v1h-3zM357 409h3v1h-3zM363 409h3v1h-3zM369 409h3v1h-3zM375 409h3v1h-3zM381 409h3v1h-3zM387 409h3v1h-3zM393 409h3v1h-3zM399 409h3v1h-3zM405 409h3v1h-3zM411 409h3v1h-3zM417 409h3v1h-3zM423 409h3v1h-3zM429 409h3v1h-3zM435 409h3v1h-3zM441 409h3v1h-3zM447 409h3v1h-3zM453 409h3v1h-3zM459 409h3v1h-3zM465 409h3v1h-3zM471 409h3v1h-3zM477 409h3v1h-3zM483 409h3v1h-3zM489 409h3v1h-3zM495 409h3v1h-3zM501 409h3v1h-3zM507 409h3v1h-3zM513 409h3v1h-3zM519 409h3v1h-3zM525 409h3v1h-3zM531 409h3v1h-3zM537 409h3v1h-3zM543 409h3v1h-3zM549 409h3v1h-3zM555 409h3v1h-3zM561 409h3v1h-3zM567 409h3v1h-3zM573 409h3v1h-3zM579 409h3v1h-3zM585 409h3v1h-3zM591 409h3v1h-3zM597 409h3v1h-3zM603 409h3v1h-3zM609 409h3v1h-3zM615 409h3v1h-3zM621 409h3v1h-3zM627 409h3v1h-3zM633 409h3v1h-3zM639 409h3v1h-3zM645 409h3v1h-3zM651 409h3v1h-3zM657 409h3v1h-3zM663 409h3v1h-3zM669 409h3v1h-3zM675 409h3v1h-3zM681 409h3v1h-3zM687 409h3v1h-3zM693 409h3v1h-3zM699 409h3v1h-3zM705 409h3v1h-3zM711 409h3v1h-3zM717 409h3v1h-3zM723 409h3v1h-3zM729 409h3v1h-3zM735 409h3v1h-3zM741 409h3v1h-3zM747 409h3v1h-3zM753 409h3v1h-3zM759 409h3v1h-3zM765 409h3v1h-3zM771 409h3v1h-3zM777 409h3v1h-3zM783 409h3v1h-3zM789 409h3v1h-3zM795 409h3v1h-3zM801 409h3v1h-3zM807 409h3v1h-3zM813 409h3v1h-3zM819 409h3v1h-3zM825 409h3v1h-3zM831 409h3v1h-3zM837 409h3v1h-3zM843 409h3v1h-3zM849 409h3v1h-3zM855 409h3v1h-3zM861 409h3v1h-3zM867 409h3v1h-3zM873 409h3v1h-3zM879 409h3v1h-3zM885 409h3v1h-3zM891 409h3v1h-3zM897 409h3v1h-3zM903 409h3v1h-3zM909 409h3v1h-3zM915 409h3v1h-3zM921 409h3v1h-3zM927 409h3v1h-3zM933 409h3v1h-3zM939 409h3v1h-3zM945 409h3v1h-3zM951 409h3v1h-3zM957 409h3v1h-3zM963 409h3v1h-3zM969 409h3v1h-3zM975 409h3v1h-3zM981 409h3v1h-3zM987 409h3v1h-3zM993 409h3v1h-3zM999 409h3v1h-3zM1005 409h3v1h-3zM1011 409h3v1h-3zM1017 409h3v1h-3z"/>
<path fill="#f00" d="M3 377h2v1h-2zM5 376h1v1h-1zM9 374h2v1h-2zM11 373h1v1h-1zM15 370h1v1h-1zM16 369h2v1h-2zM21 366h3v1h-3zM27 364h3v1h-3zM33 365h3v1h-3zM39 368h1v1h-1zM40 369h2v1h-2zM45 373h1v1h-1zM46 374h1v1h-1zM47 375h1v1h-1zM50 379h1v1h-1zM51 380h1v1h-1zM52 381h1v1h-1zM56 384h2v1h-2zM58 385h1v1h-1zM62 386h2v1h-2zM64 387h1v1h-1zM68 386h1v1h-1zM69 385h1v1h-1zM70 384h1v1h-1zM74 380h1v1h-1zM75 379h1v1h-1zM76 378h1v1h-1zM80 376h1v1h-1zM81 375h2v1h-2zM86 373h1v1h-1zM87 372h2v1h-2zM92 370h3v1h-3zM98 371h3v1h-3zM104 370h3v1h-3zM110 370h2v1h-2zM112 369h1v1h-1zM116 369h3v1h-3zM122 369h3v1h-3zM128 370h2v1h-2zM130 371h1v1h-1zM134 371h3v1h-3zM140 371h1v1h-1zM141 372h2v1h-2zM146 374h2v1h-2zM148 375h1v1h-1zM152 378h1v1h-1zM153 379h1v1h-1zM154 380h1v1h-1zM158 384h1v1h-1zM159 385h1v2h-1zM163 390h3v1h-3zM169 391h1v1h-1zM170 392h2v1h-2zM175 388h1v1h-1zM176 387h1v1h-1zM177 386h1v1h-1zM181 381h1v2h-1zM182 380h1v1h-1zM185 376h1v1h-1zM186 375h1v1h-1zM187 374h1v1h-1zM191 371h1v1h-1zM192 370h2v1h-2zM197 368h3v1h-3zM203 367h3v1h-3zM209 367h3v1h-3zM215 368h1v1h-1zM216 369h2v1h-2zM221 372h1v1h-1zM222 373h1v1h-1zM223 374h1v1h-1zM226 378h1v1h-1zM227 379h1v1h-1zM228 380h1v1h-1zM230 384h1v1h-1zM231 385h1v2h-1zM234 390h1v2h-1zM235 392h1v1h-1zM239 393h1v1h-1zM240 394h2v1h-2zM245 394h1v1h-1zM246 393h2v1h-2zM251 390h1v1h-1zM252 388h1v2h-1zM255 384h1v1h-1zM256 382h1v2h-1zM259 378h1v1h-1zM260 377h1v1h-1zM261 376h1v1h-1zM265 373h1v1h-1zM266 372h1v1h-1zM267 371h1v1h-1zM271 370h1v1h-1zM272 369h2v1h-2zM277 368h3v1h-3zM283 369h3v1h-3zM289 369h3v1h-3zM295 369h3v1h-3zM301 369h1v1h-1zM302 368h2v1h-2zM307 367h3v1h-3zM313 366h1v1h-1zM314 365h2v1h-2zM319 365h1v1h-1zM320 364h2v1h-2zM325 364h3v1h-3zM331 363h3v1h-3zM337 364h3v1h-3zM343 365h1v1h-1zM344 366h2v1h-2zM349 367h1v1h-1zM350 368h2v1h-2zM355 369h3v1h-3zM361 368h3v1h-3zM367 367h1v1h-1zM368 366h2v1h-2zM373 365h3v1h-3zM379 364h2v1h-2zM381 365h1v1h-1zM385 367h2v1h-2zM387 368h1v1h-1zM391 372h1v1h-1zM392 373h1v1h-1zM393 374h1v1h-1zM397 377h1v1h-1zM398 378h1v1h-1zM399 379h1v1h-1zM403 382h3v1h-3zM409 383h3v1h-3zM415 383h1v1h-1zM416 382h2v1h-2zM421 383h1v1h-1zM422 384h2v1h-2zM427 387h1v1h-1zM428 388h1v1h-1zM429 389h1v1h-1zM432 393h1v1h-1zM433 394h1v1h-1zM434 395h1v1h-1zM437 399h1v1h-1zM438 400h1v1h-1zM439 401h1v1h-1zM442 405h1v1h-1zM443 406h1v1h-1zM444 407h1v1h-1zM448 410h1v1h-1zM449 411h1v1h-1zM450 412h1v1h-1zM454 414h2v1h-2zM456 415h1v1h-1zM460 416h2v1h-2zM462 417h1v1h-1zM466 418h3v1h-3zM472 417h3v1h-3zM478 416h3v1h-3zM484 415h2v1h-2zM486 414h1v1h-1zM490 413h3v1h-3zM496 412h2v1h-2zM498 411h1v1h-1zM502 411h3v1h-3zM508 411h3v1h-3zM514 411h3v1h-3zM520 412h2v1h-2zM522 413h1v1h-1zM526 413h3v1h-3zM532 413h3v1h-3zM538 414h3v1h-3zM544 413h3v1h-3zM550 413h2v1h-2zM552 412h1v1h-1zM556 412h3v1h-3zM562 412h3v1h-3zM568 413h2v1h-2zM570 414h1v1h-1zM574 415h2v1h-2zM576 416h1v1h-1zM580 417h3v1h-3zM586 418h3v1h-3zM592 416h2v1h-2zM594 415h1v1h-1zM598 413h1v1h-1zM599 412h1v1h-1zM600 411h1v1h-1zM604 409h2v1h-2zM606 408h1v1h-1zM610 407h3v1h-3zM616 408h3v1h-3zM622 408h2v1h-2zM624 407h1v1h-1zM628 406h1v1h-1zM629 405h1v1h-1zM630 404h1v1h-1zM634 400h1v1h-1zM635 399h1v1h-1zM636 398h1v1h-1zM638 393h1v2h-1zM639 392h1v1h-1zM641 388h1v1h-1zM642 386h1v2h-1zM645 381h1v2h-1zM646 380h1v1h-1zM649 375h1v2h-1zM650 374h1v1h-1zM653 370h1v1h-1zM654 369h1v1h-1zM655 368h1v1h-1zM659 364h2v1h-2zM661 363h1v1h-1zM665 362h1v1h-1zM666 361h2v1h-2zM671 361h1v1h-1zM672 362h2v1h-2zM677 362h1v1h-1zM678 363h2v1h-2zM683 364h1v1h-1zM684 365h1v1h-1zM685 366h1v1h-1zM689 370h1v1h-1zM690 371h1v1h-1zM691 372h1v1h-1zM694 376h1v1h-1zM695 377h1v2h-1zM698 382h1v1h-1zM699 383h1v2h-1zM701 388h1v1h-1zM702 389h1v2h-1zM704 394h1v1h-1zM705 395h1v2h-1zM708 400h1v2h-1zM709 402h1v1h-1zM712 406h1v1h-1zM713 407h1v1h-1zM714 408h1v1h-1zM717 411h1v1h-1zM718 412h1v1h-1zM719 413h1v1h-1zM723 416h3v1h-3zM729 415h3v1h-3zM735 413h2v1h-2zM737 412h1v1h-1zM741 410h1v1h-1zM742 409h1v1h-1zM743 408h1v1h-1zM747 405h3v1h-3zM753 404h1v1h-1zM754 403h2v1h-2zM759 403h1v1h-1zM760 404h2v1h-2zM765 405h2v1h-2zM767 406h1v1h-1zM771 408h2v1h-2zM773 409h1v1h-1zM777 410h1v1h-1zM778 411h2v1h-2zM783 411h1v1h-1zM784 410h2v1h-2zM789 409h3v1h-3zM795 407h3v1h-3zM801 406h3v1h-3zM807 407h3v1h-3zM813 409h3v1h-3zM819 411h2v1h-2zM821 412h1v1h-1zM825 413h1v1h-1zM826 414h2v1h-2zM831 414h1v1h-1zM832 415h2v1h-2zM837 415h3v1h-3zM843 414h2v1h-2zM845 413h1v1h-1zM849 411h2v1h-2zM851 410h1v1h-1zM855 409h1v1h-1zM856 408h2v1h-2zM861 407h3v1h-3zM867 406h3v1h-3zM873 406h3v1h-3zM879 406h3v1h-3zM885 407h3v1h-3zM891 409h2v1h-2zM893 410h1v1h-1zM897 411h1v1h-1zM898 412h2v1h-2zM903 413h3v1h-3zM909 413h2v1h-2zM911 412h1v1h-1zM915 410h1v1h-1zM916 408h1v2h-1zM919 404h1v1h-1zM920 403h1v1h-1zM921 402h1v1h-1zM924 397h1v2h-1zM925 396h1v1h-1zM927 392h1v1h-1zM928 391h1v1h-1zM929 390h1v1h-1zM931 386h1v1h-1zM932 385h1v1h-1zM933 384h1v1h-1zM936 380h1v1h-1zM937 379h1v1h-1zM938 378h1v1h-1zM942 377h2v1h-2zM944 376h1v1h-1zM948 377h2v1h-2zM950 378h1v1h-1zM954 381h1v1h-1zM955 382h2v1h-2zM960 382h3v1h-3zM966 382h2v1h-2zM968 381h1v1h-1zM972 380h2v1h-2zM974 379h1v1h-1zM978 376h1v1h-1zM979 375h2v1h-2zM984 376h3v1h-3zM990 378h2v1h-2zM992 379h1v1h-1zM996 382h1v1h-1zM997 383h1v1h-1zM998 384h1v1h-1zM1001 388h1v1h-1zM1002 389h1v1h-1z"/>
<path fill="#20b2aa" d="M3 373h1v1h-1zM4 372h2v1h-2zM6 371h1v1h-1zM7 370h1v1h-1zM8 369h2v1h-2zM10 368h1v1h-1zM11 367h1v1h-1zM12 366h2v1h-2zM14 365h1v1h-1zM15 364h1v1h-1zM16 363h2v1h-2zM18 362h1v1h-1zM19 361h3v1h-3zM22 362h4v1h-4zM26 363h2v1h-2zM28 364h1v1h-1zM29 365h1v1h-1zM30 366h1v1h-1zM31 367h1v1h-1zM32 368h1v1h-1zM33 369h1v1h-1zM34 370h1v1h-1zM35 371h1v1h-1zM36 372h1v1h-1zM37 373h1v1h-1zM38 374h1v1h-1zM39 375h1v2h-1zM40 377h1v1h-1zM41 378h1v1h-1zM42 379h1v1h-1zM43 380h1v1h-1zM44 381h1v1h-1zM45 382h1v2h-1zM46 384h1v1h-1zM47 385h1v1h-1zM48 386h1v1h-1zM49 387h1v2h-1zM50 389h1v1h-1zM51 390h3v1h-3zM54 389h4v1h-4zM58 388h2v1h-2zM60 387h2v1h-2zM62 386h2v1h-2zM64 385h1v1h-1zM65 384h2v1h-2zM67 383h1v1h-1zM68 381h1v2h-1zM69 379h1v2h-1zM70 377h1v2h-1zM71 375h1v2h-1zM72 373h1v2h-1zM73 371h1v2h-1zM74 369h1v2h-1zM75 368h2v1h-2zM77 369h2v1h-2zM79 370h2v1h-2zM81 371h2v1h-2zM83 372h5v1h-5zM88 371h13v1h-13zM101 370h3v1h-3zM104 369h2v1h-2zM106 368h4v1h-4zM110 369h4v1h-4zM114 370h6v1h-6zM120 371h6v1h-6zM126 372h4v1h-4zM130 373h3v1h-3zM133 372h3v1h-3zM136 371h2v1h-2zM138 370h2v1h-2zM140 371h1v1h-1zM141 372h1v2h-1zM142 374h1v1h-1zM143 375h1v1h-1zM144 376h1v1h-1zM145 377h1v2h-1zM146 379h1v1h-1zM147 380h1v1h-1zM148 381h1v2h-1zM149 383h1v2h-1zM150 385h1v1h-1zM151 386h1v2h-1zM152 388h1v1h-1zM153 389h1v2h-1zM154 391h1v2h-1zM155 393h2v1h-2zM157 394h3v1h-3zM160 395h2v1h-2zM162 396h2v1h-2zM164 395h1v1h-1zM165 394h1v1h-1zM166 393h1v1h-1zM167 391h1v2h-1zM168 390h1v1h-1zM169 389h1v1h-1zM170 388h1v1h-1zM171 386h1v2h-1zM172 384h1v2h-1zM173 382h1v2h-1zM174 380h1v2h-1zM175 377h1v3h-1zM176 375h1v2h-1zM177 373h1v2h-1zM178 371h1v2h-1zM179 369h3v1h-3zM179 370h1v1h-1zM182 368h4v1h-4zM186 367h6v1h-6zM192 368h8v1h-8zM200 367h6v1h-6zM206 366h4v1h-4zM210 365h2v1h-2zM212 366h1v2h-1zM213 368h1v2h-1zM214 370h1v2h-1zM215 372h1v1h-1zM216 373h1v2h-1zM217 375h1v2h-1zM218 377h1v2h-1zM219 379h1v1h-1zM220 380h1v2h-1zM221 382h1v2h-1zM222 384h1v2h-1zM223 386h1v1h-1zM224 387h1v2h-1zM225 389h1v2h-1zM226 391h1v2h-1zM227 393h1v1h-1zM228 394h1v2h-1zM229 396h1v1h-1zM230 397h1v2h-1zM231 399h1v1h-1zM232 400h1v2h-1zM233 402h1v1h-1zM234 403h1v1h-1zM234 404h2v1h-2zM235 405h1v1h-1zM236 402h1v2h-1zM237 400h1v2h-1zM238 398h1v2h-1zM239 396h1v2h-1zM240 394h1v2h-1zM241 392h1v2h-1zM242 390h1v2h-1zM243 388h1v2h-1zM244 387h1v1h-1zM245 385h1v2h-1zM246 384h1v1h-1zM247 383h1v1h-1zM248 382h1v1h-1zM249 380h1v2h-1zM250 379h1v1h-1zM251 378h1v1h-1zM252 376h1v2h-1zM253 375h1v1h-1zM254 374h1v1h-1zM255 372h1v2h-1zM256 371h1v1h-1zM257 370h1v1h-1zM258 368h1v2h-1zM259 367h3v1h-3zM262 368h4v1h-4zM266 369h14v1h-14zM280 370h8v1h-8zM288 369h6v1h-6zM294 368h4v1h-4zM298 367h3v1h-3zM301 366h3v1h-3zM304 365h2v1h-2zM306 364h14v1h-14zM320 363h8v1h-8zM328 364h5v1h-5zM333 365h3v1h-3zM336 366h2v1h-2zM338 367h3v1h-3zM341 368h3v1h-3zM344 369h2v1h-2zM346 370h10v1h-10zM356 369h2v1h-2zM358 368h2v1h-2zM360 367h1v1h-1zM361 366h2v1h-2zM363 365h2v1h-2zM365 364h3v1h-3zM368 363h2v1h-2zM370 362h3v1h-3zM373 363h2v1h-2zM375 364h2v1h-2zM377 365h2v1h-2zM379 366h1v1h-1zM380 367h1v2h-1zM381 369h1v1h-1zM382 370h1v2h-1zM383 372h1v1h-1zM384 373h1v2h-1zM385 375h1v1h-1zM386 376h1v2h-1zM387 378h1v1h-1zM388 379h1v1h-1zM389 380h1v1h-1zM390 381h2v1h-2zM392 382h1v1h-1zM393 383h1v1h-1zM394 384h1v1h-1zM395 385h3v1h-3zM398 384h4v1h-4zM402 383h6v1h-6zM408 382h8v1h-8zM416 383h4v1h-4zM420 384h1v2h-1zM421 386h1v2h-1zM422 388h1v2h-1zM423 390h1v2h-1zM424 392h1v2h-1zM425 394h1v2h-1zM426 396h1v2h-1zM427 398h1v1h-1zM428 399h1v1h-1zM429 400h1v1h-1zM430 401h1v1h-1zM431 402h1v2h-1zM432 404h1v1h-1zM433 405h1v1h-1zM434 406h1v1h-1zM435 407h1v1h-1zM436 408h1v1h-1zM437 409h1v1h-1zM438 410h2v1h-2zM440 411h1v1h-1zM441 412h1v1h-1zM442 413h1v1h-1zM443 414h2v1h-2zM445 415h3v1h-3zM448 416h2v1h-2zM450 417h6v1h-6zM456 418h13v1h-13zM469 417h3v1h-3zM472 416h2v1h-2zM474 415h4v1h-4zM478 414h4v1h-4zM482 413h4v1h-4zM486 412h4v1h-4zM490 411h6v1h-6zM496 410h6v1h-6zM502 411h4v1h-4zM506 412h6v1h-6zM512 411h5v1h-5zM517 412h2v1h-2zM519 413h2v1h-2zM521 414h2v1h-2zM523 415h5v1h-5zM528 414h8v1h-8zM536 413h8v1h-8zM544 412h8v1h-8zM552 411h5v1h-5zM557 412h3v1h-3zM560 413h2v1h-2zM562 414h3v1h-3zM565 415h3v1h-3zM568 416h2v1h-2zM570 417h3v1h-3zM573 418h3v1h-3zM576 419h2v1h-2zM578 420h3v1h-3zM581 419h3v1h-3zM584 418h2v1h-2zM586 417h2v1h-2zM588 416h1v1h-1zM589 415h1v1h-1zM590 414h1v1h-1zM591 412h1v2h-1zM592 411h1v1h-1zM593 410h1v1h-1zM594 409h1v1h-1zM595 408h2v1h-2zM597 407h2v1h-2zM599 406h2v1h-2zM601 405h2v1h-2zM603 404h2v1h-2zM605 405h2v1h-2zM607 406h2v1h-2zM609 407h2v1h-2zM611 408h2v1h-2zM613 409h3v1h-3zM616 410h2v1h-2zM618 411h2v1h-2zM620 410h1v1h-1zM621 409h1v1h-1zM622 408h1v1h-1zM623 406h1v2h-1zM624 405h1v1h-1zM625 404h1v1h-1zM626 403h1v1h-1zM627 401h1v2h-1zM628 399h1v2h-1zM629 397h1v2h-1zM630 395h1v2h-1zM631 393h1v2h-1zM632 391h1v2h-1zM633 389h1v2h-1zM634 387h1v2h-1zM635 384h1v3h-1zM636 382h1v2h-1zM637 380h1v2h-1zM638 378h1v2h-1zM639 376h1v2h-1zM640 374h1v2h-1zM641 372h1v2h-1zM642 370h1v2h-1zM643 369h1v1h-1zM644 368h1v1h-1zM645 367h1v1h-1zM646 366h1v1h-1zM647 365h1v1h-1zM648 364h1v1h-1zM649 363h1v1h-1zM650 362h1v1h-1zM651 361h13v1h-13zM664 360h5v1h-5zM669 361h2v1h-2zM671 362h2v1h-2zM673 363h2v1h-2zM675 364h2v1h-2zM677 365h3v1h-3zM680 366h2v1h-2zM682 367h2v1h-2zM683 368h1v1h-1zM684 369h1v2h-1zM685 371h1v2h-1zM686 373h1v2h-1zM687 375h1v2h-1zM688 377h1v2h-1zM689 379h1v2h-1zM690 381h1v2h-1zM691 383h1v2h-1zM692 385h1v2h-1zM693 387h1v2h-1zM694 389h1v2h-1zM695 391h1v2h-1zM696 393h1v2h-1zM697 395h1v2h-1zM698 397h1v2h-1zM699 399h1v1h-1zM700 400h1v2h-1zM701 402h1v2h-1zM702 404h1v2h-1zM703 406h1v2h-1zM704 408h1v2h-1zM705 410h1v2h-1zM706 412h1v2h-1zM707 414h2v1h-2zM709 415h2v1h-2zM711 416h2v1h-2zM713 417h2v1h-2zM715 418h5v1h-5zM720 417h4v1h-4zM724 416h1v1h-1zM725 415h1v1h-1zM726 414h2v1h-2zM728 413h1v1h-1zM729 412h1v1h-1zM730 411h1v1h-1zM731 410h1v1h-1zM732 409h2v1h-2zM734 408h2v1h-2zM736 407h1v1h-1zM737 406h2v1h-2zM739 405h2v1h-2zM741 404h2v1h-2zM743 403h2v1h-2zM745 402h2v1h-2zM747 401h5v1h-5zM752 402h4v1h-4zM756 403h1v1h-1zM757 404h1v1h-1zM758 405h1v1h-1zM759 406h1v1h-1zM760 407h1v1h-1zM761 408h1v1h-1zM762 409h1v1h-1zM763 410h2v1h-2zM765 411h2v1h-2zM767 412h2v1h-2zM769 413h2v1h-2zM771 414h2v1h-2zM773 413h2v1h-2zM775 412h2v1h-2zM777 411h2v1h-2zM779 410h2v1h-2zM781 409h2v1h-2zM783 408h2v1h-2zM785 407h2v1h-2zM787 406h5v1h-5zM792 405h6v1h-6zM798 406h4v1h-4zM802 407h3v1h-3zM805 408h2v1h-2zM807 409h2v1h-2zM809 410h2v1h-2zM811 411h2v1h-2zM813 412h3v1h-3zM816 413h2v1h-2zM818 414h3v1h-3zM821 415h2v1h-2zM823 416h2v1h-2zM825 417h2v1h-2zM827 418h2v1h-2zM829 417h2v1h-2zM831 416h2v1h-2zM833 415h2v1h-2zM835 414h2v1h-2zM837 413h2v1h-2zM839 412h2v1h-2zM841 411h2v1h-2zM843 410h2v1h-2zM845 409h2v1h-2zM847 408h2v1h-2zM849 407h2v1h-2zM851 406h5v1h-5zM856 407h8v1h-8zM864 406h8v1h-8zM872 405h5v1h-5zM877 406h2v1h-2zM879 407h2v1h-2zM881 408h2v1h-2zM883 409h2v1h-2zM885 410h2v1h-2zM887 411h2v1h-2zM889 412h2v1h-2zM891 413h3v1h-3zM894 414h4v1h-4zM898 415h4v1h-4zM902 414h4v1h-4zM906 413h2v1h-2zM908 411h1v2h-1zM909 410h1v1h-1zM910 409h1v1h-1zM911 407h1v2h-1zM912 406h1v1h-1zM913 405h1v1h-1zM914 403h1v2h-1zM915 401h1v2h-1zM916 399h1v2h-1zM917 397h1v2h-1zM918 394h1v3h-1zM919 392h1v2h-1zM920 389h1v3h-1zM921 387h1v2h-1zM922 385h1v2h-1zM923 383h1v2h-1zM924 381h1v2h-1zM925 380h1v1h-1zM926 379h1v1h-1zM927 377h1v2h-1zM928 376h1v1h-1zM929 375h1v1h-1zM930 373h1v2h-1zM931 372h2v1h-2zM933 373h3v1h-3zM936 374h2v1h-2zM938 375h2v1h-2zM940 376h2v1h-2zM942 377h1v1h-1zM943 378h1v1h-1zM944 379h2v1h-2zM946 380h1v1h-1zM947 381h1v1h-1zM948 382h1v1h-1zM949 383h1v1h-1zM950 384h2v1h-2zM952 385h1v1h-1zM953 386h1v1h-1zM954 387h1v1h-1zM955 388h1v1h-1zM956 387h1v1h-1zM957 385h1v2h-1zM958 384h1v1h-1zM959 383h1v1h-1zM960 382h1v1h-1zM961 380h1v2h-1zM962 379h1v1h-1zM963 378h3v1h-3zM966 377h4v1h-4zM970 376h3v1h-3zM973 375h2v1h-2zM975 374h2v1h-2zM977 373h2v1h-2zM979 372h1v1h-1zM980 373h1v1h-1zM981 374h1v1h-1zM982 375h1v1h-1zM983 376h1v1h-1zM984 377h1v1h-1zM985 378h1v1h-1zM986 379h1v1h-1zM987 380h1v1h-1zM988 381h1v1h-1zM989 382h1v2h-1zM990 384h1v1h-1zM991 385h1v1h-1zM992 386h1v1h-1zM993 387h1v2h-1zM994 389h1v1h-1zM995 390h1v1h-1zM996 391h1v2h-1zM997 393h1v1h-1zM998 394h1v1h-1zM999 395h1v2h-1zM1000 397h1v1h-1zM1001 398h1v1h-1zM1002 399h1v2h-1z"/>
</g>
<path shape-rendering="crispEdges" fill="#000" d="M2 2h1021v1h-1021zM2 2h1v352h-1zM2 353h1021v1h-1021zM1022 2h1v352h-1zM2 355h1021v1h-1021zM2 355h1v69h-1zM2 423h1021v1h-1021zM1022 355h1v69h-1zM1023 20h2v1h-2zM1023 53h2v1h-2zM1023 86h2v1h-2zM1023 119h2v1h-2zM1023 152h2v1h-2zM1023 185h2v1h-2zM1023 218h2v1h-2zM1023 251h2v1h-2zM1023 284h2v1h-2zM1023 317h2v1h-2zM1023 350h2v1h-2zM3 424h1v3h-1zM67 424h1v3h-1zM131 424h1v3h-1zM195 424h1v3h-1zM259 424h1v3h-1zM323 424h1v3h-1zM387 424h1v3h-1zM451 424h1v3h-1zM515 424h1v3h-1zM579 424h1v3h-1zM643 424h1v3h-1zM707 424h1v3h-1zM771 424h1v3h-1zM835 424h1v3h-1zM899 424h1v3h-1zM963 424h1v3h-1zM1023 357h1v1h-1zM1023 422h1v1h-1z"/>
<path shape-rendering="crispEdges" fill="#000" d="M6 9h7v1h-7zM7 10h5v1h-5zM8 11h3v1h-3zM9 12h1v1h-1z"/>
<text x="17.6" y="13.6" style="letter-spacing:.15px">WT,Daily</text>
<text x="62.8" y="13.6" style="font-size:9.4px">24.42 24.47 22.69 23.65</text>
<text x="6.5" y="367.6" style="font-size:9.3px">Stoch(9,3,3) 32.5480 47.4805</text>
<text x="1027.7" y="23.3">64.80</text>
<text x="1027.7" y="56.3">60.10</text>
<text x="1027.7" y="89.3">55.50</text>
<text x="1027.7" y="122.3">50.80</text>
<text x="1027.7" y="155.3">46.20</text>
<text x="1027.7" y="188.3">41.50</text>
<text x="1027.7" y="221.3">36.90</text>
<text x="1027.7" y="254.3">32.30</text>
<text x="1027.7" y="287.3">27.60</text>
<text x="1027.7" y="320.3">23.00</text>
<text x="1027.7" y="353.3">18.30</text>
<rect x="1024" y="307" width="31" height="11" fill="#000" shape-rendering="crispEdges"/>
<text x="1027.7" y="316" style="fill:#fff;stroke:#fff">23.65</text>
<text x="1025.5" y="365.2">100</text>
<text x="1025.5" y="373.7">80</text>
<text x="1025.5" y="412.7">20</text>
<text x="1025.5" y="419.7">0</text>
<text x="2" y="435.8" style="font-size:9.4px">23 Oct 2019</text>
<text x="66" y="435.8" style="font-size:9.4px">4 Nov 2019</text>
<text x="130" y="435.8" style="font-size:9.4px">14 Nov 2019</text>
<text x="194" y="435.8" style="font-size:9.4px">26 Nov 2019</text>
<text x="258" y="435.8" style="font-size:9.4px">6 Dec 2019</text>
<text x="322" y="435.8" style="font-size:9.4px">18 Dec 2019</text>
<text x="386" y="435.8" style="font-size:9.4px">31 Dec 2019</text>
<text x="450" y="435.8" style="font-size:9.4px">13 Jan 2020</text>
<text x="514" y="435.8" style="font-size:9.4px">23 Jan 2020</text>
<text x="578" y="435.8" style="font-size:9.4px">4 Feb 2020</text>
<text x="642" y="435.8" style="font-size:9.4px">14 Feb 2020</text>
<text x="706" y="435.8" style="font-size:9.4px">26 Feb 2020</text>
<text x="770" y="435.8" style="font-size:9.4px">9 Mar 2020</text>
<text x="834" y="435.8" style="font-size:9.4px">19 Mar 2020</text>
<text x="898" y="435.8" style="font-size:9.4px">31 Mar 2020</text>
<text x="962" y="435.8" style="font-size:9.4px">13 Apr 2020</text>
</svg></body></html>
